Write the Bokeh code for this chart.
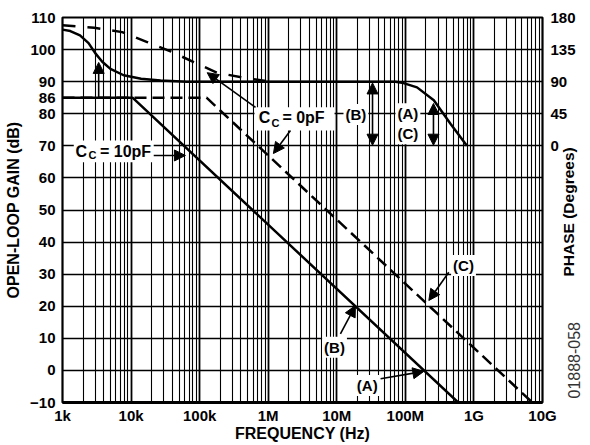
import math
from bokeh.plotting import figure
from bokeh.models import (Range1d, LinearAxis, FixedTicker, Label, Arrow, NormalHead,
                          BoxAnnotation, Grid)
from bokeh.embed import file_html
from bokeh.resources import INLINE

# ---------------- data ----------------
x_tick_values = [10**3, 10**4, 10**5, 10**6, 10**7, 10**8, 10**9, 10**10]
x_tick_labels = ["1k", "10k", "100k", "1M", "10M", "100M", "1G", "10G"]
gain_tick_values = [-10, 0, 10, 20, 30, 40, 50, 60, 70, 80, 85, 90, 100, 110]
gain_tick_labels = ["\u221210", "0", "10", "20", "30", "40", "50", "60", "70", "80",
                    "86", "90", "100", "110"]
gain_grid_values = [-10, 0, 10, 20, 30, 40, 50, 60, 70, 80, 90, 100, 110]
phase_tick_values = [0, 45, 90, 135, 180]

# open-loop gain (dB): C_C = 10pF (solid), C_C = 0pF (dashed)
freq_gain_10pf = [1.0e3, 1.05e4, 5.9e8]
gain_10pf = [85, 85, -10]
freq_gain_0pf = [1.0e3, 1.26e5, 7.1e9]
gain_0pf = [85, 85, -10]

# phase (degrees): solid and dashed curves
freq_phase_solid = [1.0e3, 1.3e3, 1.8e3, 2.4e3, 3.0e3, 3.8e3, 5.0e3, 7.8e3, 1.4e4, 2.7e4,
                    6.5e4, 7.2e7, 9.4e7, 1.48e8, 2.6e8, 4.55e8, 7.9e8]
phase_solid = [163, 161, 155, 144, 130, 118, 108, 99, 94, 91.5,
               90, 90, 88, 82, 64, 31, 0]
freq_phase_dashed = [1.0e3, 2.9e3, 7.4e3, 1.72e4, 3.76e4, 8.2e4, 1.8e5, 4.7e5, 1.1e6]
phase_dashed = [169, 165.5, 159.5, 145.5, 132.5, 117.5, 102.5, 95, 90]

FONT = "Liberation Sans"

# ---------------- figure ----------------
p = figure(width=590, height=445, x_axis_type="log",
           x_range=Range1d(1e3, 1e10), y_range=Range1d(-10, 110),
           output_backend="svg", toolbar_location=None, title=None,
           min_border_left=62, min_border_right=48, min_border_top=17,
           min_border_bottom=43)
p.extra_y_ranges = {"phase": Range1d(-360, 180)}
p.background_fill_color = "white"
p.border_fill_color = "white"
p.outline_line_color = "black"
p.outline_line_width = 2.2
p.xgrid.visible = False
p.ygrid.visible = False

# grids
minor_x = [m * d for d in x_tick_values[:-1] for m in range(2, 10)]
p.add_layout(Grid(dimension=0, ticker=FixedTicker(ticks=minor_x),
                  grid_line_color="black", grid_line_width=1.1))
p.add_layout(Grid(dimension=0, ticker=FixedTicker(ticks=x_tick_values),
                  grid_line_color="black", grid_line_width=1.8))
p.add_layout(Grid(dimension=1, ticker=FixedTicker(ticks=gain_grid_values),
                  grid_line_color="black", grid_line_width=1.3))


def style_axis(ax, standoff, size="15px", style="bold", color="black"):
    ax.major_tick_out = 0
    ax.major_tick_in = 0
    ax.minor_tick_out = 0
    ax.minor_tick_in = 0
    ax.axis_line_color = None
    ax.major_label_text_font = FONT
    ax.major_label_text_font_style = style
    ax.major_label_text_font_size = size
    ax.major_label_text_color = color
    ax.major_label_standoff = standoff
    ax.axis_label_text_font = FONT
    ax.axis_label_text_font_style = "bold"
    ax.axis_label_text_font_size = "16px"
    ax.axis_label_text_color = "black"


xa = p.xaxis[0]
xa.ticker = FixedTicker(ticks=x_tick_values)
xa.major_label_overrides = {v: l for v, l in zip(x_tick_values, x_tick_labels)}
style_axis(xa, 4)
xa.axis_line_color = "black"
xa.axis_line_width = 3
xa.axis_label = "FREQUENCY (Hz)"
xa.axis_label_standoff = -2

ya = p.yaxis[0]
ya.ticker = FixedTicker(ticks=gain_tick_values)
ya.major_label_overrides = {v: l for v, l in zip(gain_tick_values, gain_tick_labels)}
style_axis(ya, 7)
ya.axis_label = "OPEN-LOOP GAIN (dB)"
ya.axis_label_standoff = 5

# right axis: phase scale
ra = LinearAxis(y_range_name="phase", ticker=FixedTicker(ticks=phase_tick_values))
style_axis(ra, 8)
p.add_layout(ra, "right")

# figure id (vertical label on the phase scale)
fig_id_at = -354.4
ra3 = LinearAxis(y_range_name="phase", ticker=FixedTicker(ticks=[fig_id_at]),
                 major_label_overrides={fig_id_at: "01888-058"},
                 major_label_orientation=math.pi / 2)
style_axis(ra3, -4, size="16px", style="normal", color="#333333")
p.add_layout(ra3, "right")

# right-side title, drawn as a single vertical label on the phase scale
phase_title_at = -183.3
ra2 = LinearAxis(y_range_name="phase", ticker=FixedTicker(ticks=[phase_title_at]),
                 major_label_overrides={phase_title_at: "PHASE (Degrees)"},
                 major_label_orientation=math.pi / 2)
style_axis(ra2, -21, size="15.5px")
p.add_layout(ra2, "right")

# ---------------- curves ----------------
p.line(freq_gain_0pf, gain_0pf, line_color="black", line_width=2.5, line_dash="12 6")
p.line(freq_gain_10pf, gain_10pf, line_color="black", line_width=2.5)
p.line(freq_phase_dashed, phase_dashed, y_range_name="phase", line_color="black",
       line_width=2.5, line_dash="13 12")
p.line(freq_phase_solid, phase_solid, y_range_name="phase", line_color="black",
       line_width=2.5)


# ---------------- annotations ----------------
def add_text(x, y, text, size=15, align="center", baseline="middle", bg=None):
    kw = {}
    if bg is not None:
        kw = dict(background_fill_color=bg, background_fill_alpha=1.0, padding=2)
    p.add_layout(Label(x=x, y=y, text=text, text_font=FONT, text_font_style="bold",
                       text_font_size=f"{size}px", text_color="black", text_align=align,
                       text_baseline=baseline, **kw))


def add_arrow(xs, ys, xe, ye, both=False):
    def head():
        return NormalHead(size=11, fill_color="black", line_color="black", line_width=1)
    p.add_layout(Arrow(x_start=xs, y_start=ys, x_end=xe, y_end=ye, end=head(),
                       start=head() if both else None, line_width=1.6,
                       line_color="black"))


def white_box(left, right, bottom, top):
    p.add_layout(BoxAnnotation(left=left, right=right, bottom=bottom, top=top,
                               fill_color="white", fill_alpha=1.0, line_color=None))


# C_C = 10pF
white_box(1.46e3, 2.14e4, 64.9, 71.7)
add_text(1.55e3, 68.3, "C", size=16, align="left")
add_text(2.39e3, 67.1, "C", size=11, align="left")
add_text(3.52e3, 68.3, "= 10pF", size=16, align="left")
add_arrow(2.14e4, 67.0, 6.2e4, 67.0)

# C_C = 0pF
white_box(6.31e5, 9.27e6, 74.8, 82.0)
add_text(7.3e5, 78.9, "C", size=16, align="left")
add_text(1.12e6, 77.1, "C", size=11, align="left")
add_text(1.61e6, 78.9, "= 0pF", size=16, align="left")
add_arrow(6.53e5, 82.0, 1.29e5, 92.8)
add_arrow(2.11e6, 74.8, 1.19e6, 67.6)

# arrow to the phase curve at low frequency
add_arrow(3.37e3, 85.0, 3.37e3, 96.0)

# phase-margin markers
add_text(1.9e7, 79.8, "(B)", bg="white")
add_arrow(3.32e7, 89.6, 3.32e7, 70.2, both=True)
add_text(1.09e8, 80.0, "(A)", bg="white")
add_text(1.09e8, 73.8, "(C)", bg="white")
add_arrow(2.57e8, 83.2, 2.57e8, 70.2, both=True)

# unity-gain markers
add_text(7.05e8, 32.7, "(C)", bg="white")
add_arrow(4.3e8, 30.6, 2.2e8, 21.8)
add_text(9.27e6, 7.2, "(B)", bg="white")
add_arrow(1.13e7, 11.4, 1.87e7, 20.2)
add_text(2.78e7, -4.7, "(A)", bg="white")
add_arrow(4.35e7, -2.6, 1.86e8, -0.3)

open("out.html", "w").write(file_html(p, INLINE))
